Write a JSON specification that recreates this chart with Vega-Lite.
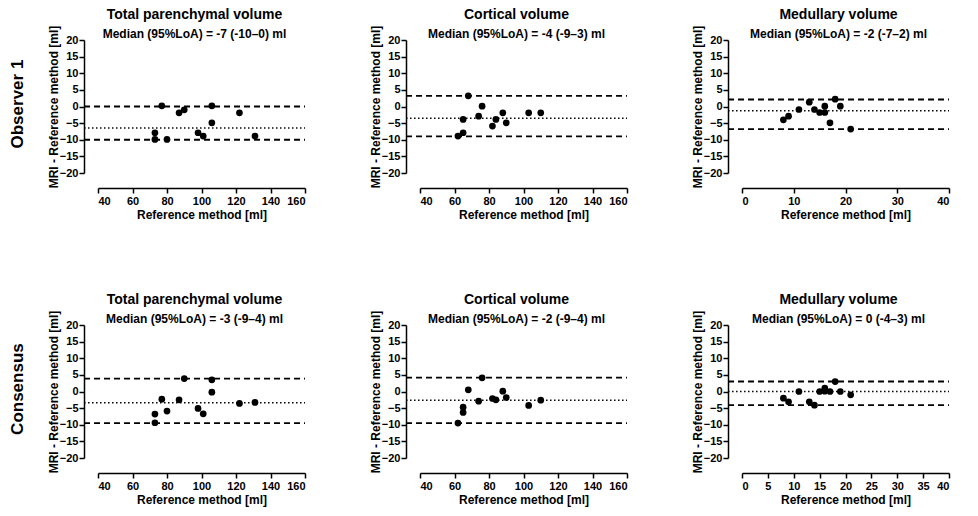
{
  "$schema": "https://vega.github.io/schema/vega-lite/v6.json",
  "background": "white",
  "padding": {"left": 9, "top": 8, "right": 5, "bottom": 5},
  "spacing": 73,
  "config": {
    "font": "Liberation Sans",
    "view": {"stroke": null},
    "axis": {
      "grid": false,
      "domainColor": "black",
      "domainWidth": 1.5,
      "tickColor": "black",
      "tickWidth": 1.5,
      "tickSize": 5,
      "labelFont": "Liberation Sans",
      "labelFontSize": 11,
      "labelFontWeight": "bold",
      "labelColor": "black",
      "labelPadding": 2,
      "titleFont": "Liberation Sans",
      "titleFontSize": 12,
      "titleFontWeight": "bold",
      "titleColor": "black"
    },
    "axisX": {"offset": 15, "titlePadding": 3},
    "axisY": {"offset": 14, "titlePadding": -1, "labelPadding": 1},
    "title": {
      "font": "Liberation Sans",
      "fontSize": 14,
      "fontWeight": "bold",
      "color": "black",
      "subtitleFont": "Liberation Sans",
      "subtitleFontSize": 12,
      "subtitleFontWeight": "bold",
      "subtitleColor": "black",
      "subtitlePadding": 7,
      "anchor": "middle",
      "offset": -15
    }
  },
  "datasets": {
    "pts": [
      {"p": "T1", "ref": 77, "diff": 0.2},
      {"p": "T1", "ref": 87, "diff": -1.9},
      {"p": "T1", "ref": 90, "diff": -1.0},
      {"p": "T1", "ref": 106, "diff": 0.2},
      {"p": "T1", "ref": 106, "diff": -4.9},
      {"p": "T1", "ref": 122, "diff": -1.9},
      {"p": "T1", "ref": 73, "diff": -7.9},
      {"p": "T1", "ref": 73, "diff": -9.9},
      {"p": "T1", "ref": 80, "diff": -9.9},
      {"p": "T1", "ref": 98, "diff": -7.9},
      {"p": "T1", "ref": 101, "diff": -8.9},
      {"p": "T1", "ref": 131, "diff": -8.9},
      {"p": "C1", "ref": 68, "diff": 3.2},
      {"p": "C1", "ref": 76, "diff": 0.1},
      {"p": "C1", "ref": 74, "diff": -2.9},
      {"p": "C1", "ref": 65, "diff": -3.9},
      {"p": "C1", "ref": 65, "diff": -7.9},
      {"p": "C1", "ref": 62, "diff": -8.9},
      {"p": "C1", "ref": 82, "diff": -5.9},
      {"p": "C1", "ref": 84, "diff": -3.9},
      {"p": "C1", "ref": 88, "diff": -1.9},
      {"p": "C1", "ref": 90, "diff": -4.9},
      {"p": "C1", "ref": 103, "diff": -1.9},
      {"p": "C1", "ref": 110, "diff": -1.9},
      {"p": "M1", "ref": 8, "diff": -4.0},
      {"p": "M1", "ref": 9, "diff": -2.9},
      {"p": "M1", "ref": 11, "diff": -0.9},
      {"p": "M1", "ref": 13, "diff": 1.3},
      {"p": "M1", "ref": 14, "diff": -0.9},
      {"p": "M1", "ref": 15, "diff": -1.8},
      {"p": "M1", "ref": 16, "diff": 0.1},
      {"p": "M1", "ref": 16, "diff": -1.8},
      {"p": "M1", "ref": 17, "diff": -4.9},
      {"p": "M1", "ref": 18, "diff": 2.2},
      {"p": "M1", "ref": 19, "diff": 0.1},
      {"p": "M1", "ref": 21, "diff": -6.8},
      {"p": "T2", "ref": 90, "diff": 3.9},
      {"p": "T2", "ref": 106, "diff": 3.5},
      {"p": "T2", "ref": 106, "diff": -0.2},
      {"p": "T2", "ref": 77, "diff": -2.3},
      {"p": "T2", "ref": 87, "diff": -2.5},
      {"p": "T2", "ref": 73, "diff": -6.8},
      {"p": "T2", "ref": 73, "diff": -9.4},
      {"p": "T2", "ref": 80, "diff": -5.9},
      {"p": "T2", "ref": 98, "diff": -5.1},
      {"p": "T2", "ref": 101, "diff": -6.7},
      {"p": "T2", "ref": 122, "diff": -3.6},
      {"p": "T2", "ref": 131, "diff": -3.3},
      {"p": "C2", "ref": 76, "diff": 4.1},
      {"p": "C2", "ref": 68, "diff": 0.5},
      {"p": "C2", "ref": 88, "diff": 0.1},
      {"p": "C2", "ref": 74, "diff": -2.9},
      {"p": "C2", "ref": 82, "diff": -2.1},
      {"p": "C2", "ref": 84, "diff": -2.5},
      {"p": "C2", "ref": 90, "diff": -1.8},
      {"p": "C2", "ref": 65, "diff": -4.7},
      {"p": "C2", "ref": 65, "diff": -6.3},
      {"p": "C2", "ref": 62, "diff": -9.5},
      {"p": "C2", "ref": 103, "diff": -4.2},
      {"p": "C2", "ref": 110, "diff": -2.6},
      {"p": "M2", "ref": 8, "diff": -2.0},
      {"p": "M2", "ref": 9, "diff": -3.1},
      {"p": "M2", "ref": 11, "diff": 0.0},
      {"p": "M2", "ref": 13, "diff": -3.1},
      {"p": "M2", "ref": 14, "diff": -4.1},
      {"p": "M2", "ref": 15, "diff": 0.0},
      {"p": "M2", "ref": 16, "diff": 1.0},
      {"p": "M2", "ref": 16, "diff": 0.1},
      {"p": "M2", "ref": 17, "diff": 0.0},
      {"p": "M2", "ref": 18, "diff": 3.0},
      {"p": "M2", "ref": 19, "diff": 0.0},
      {"p": "M2", "ref": 21, "diff": -1.0}
    ],
    "loa": [
      {"p": "T1", "stat": "median", "diff": -6.5},
      {"p": "T1", "stat": "lower", "diff": -10},
      {"p": "T1", "stat": "upper", "diff": 0},
      {"p": "C1", "stat": "median", "diff": -3.5},
      {"p": "C1", "stat": "lower", "diff": -9},
      {"p": "C1", "stat": "upper", "diff": 3.2},
      {"p": "M1", "stat": "median", "diff": -1.3},
      {"p": "M1", "stat": "lower", "diff": -6.8},
      {"p": "M1", "stat": "upper", "diff": 2.1},
      {"p": "T2", "stat": "median", "diff": -3.4},
      {"p": "T2", "stat": "lower", "diff": -9.5},
      {"p": "T2", "stat": "upper", "diff": 3.9},
      {"p": "C2", "stat": "median", "diff": -2.6},
      {"p": "C2", "stat": "lower", "diff": -9.5},
      {"p": "C2", "stat": "upper", "diff": 4.2},
      {"p": "M2", "stat": "median", "diff": 0},
      {"p": "M2", "stat": "lower", "diff": -4.1},
      {"p": "M2", "stat": "upper", "diff": 3.0}
    ]
  },
  "vconcat": [
    {
      "title": {"text": "Observer 1", "orient": "left", "anchor": "middle", "fontSize": 17, "fontWeight": "bold", "offset": 20, "dx": 10},
      "spacing": 63,
      "hconcat": [
        {
          "width": 207, "height": 133,
          "title": {"text": "Total parenchymal volume", "subtitle": "Median (95%LoA) = -7 (-10–0) ml", "dx": -7},
          "layer": [
            {"data": {"name": "loa"}, "transform": [{"filter": "datum.p === 'T1' && datum.stat !== 'median'"}],
             "mark": {"type": "rule", "strokeDash": [6, 4], "strokeWidth": 1.8, "color": "black"},
             "encoding": {"x": {"datum": 31.9, "type": "quantitative", "scale": {"domain": [40, 160], "nice": false, "zero": false}, "axis": {"title": "Reference method [ml]", "values": [40, 60, 80, 100, 120, 140, 160]}}, "x2": {"datum": 160},
               "y": {"field": "diff", "type": "quantitative", "scale": {"domain": [-20, 20]}, "axis": {"title": "MRI - Reference method [ml]", "values": [-20, -15, -10, -5, 0, 5, 10, 15, 20]}}}},
            {"data": {"name": "loa"}, "transform": [{"filter": "datum.p === 'T1' && datum.stat === 'median'"}],
             "mark": {"type": "rule", "strokeDash": [1.5, 2.5], "strokeWidth": 1.5, "color": "black"},
             "encoding": {"x": {"datum": 31.9, "type": "quantitative", "scale": {"domain": [40, 160], "nice": false, "zero": false}, "axis": {"title": "Reference method [ml]", "values": [40, 60, 80, 100, 120, 140, 160]}}, "x2": {"datum": 160},
               "y": {"field": "diff", "type": "quantitative", "scale": {"domain": [-20, 20]}, "axis": {"title": "MRI - Reference method [ml]", "values": [-20, -15, -10, -5, 0, 5, 10, 15, 20]}}}},
            {"data": {"name": "pts"}, "transform": [{"filter": "datum.p === 'T1'"}],
             "mark": {"type": "circle", "size": 45, "color": "black", "opacity": 1},
             "encoding": {"x": {"field": "ref", "type": "quantitative", "scale": {"domain": [40, 160], "nice": false, "zero": false}, "axis": {"title": "Reference method [ml]", "values": [40, 60, 80, 100, 120, 140, 160]}},
               "y": {"field": "diff", "type": "quantitative", "scale": {"domain": [-20, 20]}, "axis": {"title": "MRI - Reference method [ml]", "values": [-20, -15, -10, -5, 0, 5, 10, 15, 20]}}}}
          ]
        },
        {
          "width": 207, "height": 133,
          "title": {"text": "Cortical volume", "subtitle": "Median (95%LoA) = -4 (-9–3) ml", "dx": -7},
          "layer": [
            {"data": {"name": "loa"}, "transform": [{"filter": "datum.p === 'C1' && datum.stat !== 'median'"}],
             "mark": {"type": "rule", "strokeDash": [6, 4], "strokeWidth": 1.8, "color": "black"},
             "encoding": {"x": {"datum": 31.9, "type": "quantitative", "scale": {"domain": [40, 160], "nice": false, "zero": false}, "axis": {"title": "Reference method [ml]", "values": [40, 60, 80, 100, 120, 140, 160]}}, "x2": {"datum": 160},
               "y": {"field": "diff", "type": "quantitative", "scale": {"domain": [-20, 20]}, "axis": {"title": "MRI - Reference method [ml]", "values": [-20, -15, -10, -5, 0, 5, 10, 15, 20]}}}},
            {"data": {"name": "loa"}, "transform": [{"filter": "datum.p === 'C1' && datum.stat === 'median'"}],
             "mark": {"type": "rule", "strokeDash": [1.5, 2.5], "strokeWidth": 1.5, "color": "black"},
             "encoding": {"x": {"datum": 31.9, "type": "quantitative", "scale": {"domain": [40, 160], "nice": false, "zero": false}, "axis": {"title": "Reference method [ml]", "values": [40, 60, 80, 100, 120, 140, 160]}}, "x2": {"datum": 160},
               "y": {"field": "diff", "type": "quantitative", "scale": {"domain": [-20, 20]}, "axis": {"title": "MRI - Reference method [ml]", "values": [-20, -15, -10, -5, 0, 5, 10, 15, 20]}}}},
            {"data": {"name": "pts"}, "transform": [{"filter": "datum.p === 'C1'"}],
             "mark": {"type": "circle", "size": 45, "color": "black", "opacity": 1},
             "encoding": {"x": {"field": "ref", "type": "quantitative", "scale": {"domain": [40, 160], "nice": false, "zero": false}, "axis": {"title": "Reference method [ml]", "values": [40, 60, 80, 100, 120, 140, 160]}},
               "y": {"field": "diff", "type": "quantitative", "scale": {"domain": [-20, 20]}, "axis": {"title": "MRI - Reference method [ml]", "values": [-20, -15, -10, -5, 0, 5, 10, 15, 20]}}}}
          ]
        },
        {
          "width": 207, "height": 133,
          "title": {"text": "Medullary volume", "subtitle": "Median (95%LoA) = -2 (-7–2) ml", "dx": -7},
          "layer": [
            {"data": {"name": "loa"}, "transform": [{"filter": "datum.p === 'M1' && datum.stat !== 'median'"}],
             "mark": {"type": "rule", "strokeDash": [6, 4], "strokeWidth": 1.8, "color": "black"},
             "encoding": {"x": {"datum": -2.7, "type": "quantitative", "scale": {"domain": [0, 40], "nice": false, "zero": false}, "axis": {"title": "Reference method [ml]", "values": [0, 10, 20, 30, 40]}}, "x2": {"datum": 40},
               "y": {"field": "diff", "type": "quantitative", "scale": {"domain": [-20, 20]}, "axis": {"title": "MRI - Reference method [ml]", "values": [-20, -15, -10, -5, 0, 5, 10, 15, 20]}}}},
            {"data": {"name": "loa"}, "transform": [{"filter": "datum.p === 'M1' && datum.stat === 'median'"}],
             "mark": {"type": "rule", "strokeDash": [1.5, 2.5], "strokeWidth": 1.5, "color": "black"},
             "encoding": {"x": {"datum": -2.7, "type": "quantitative", "scale": {"domain": [0, 40], "nice": false, "zero": false}, "axis": {"title": "Reference method [ml]", "values": [0, 10, 20, 30, 40]}}, "x2": {"datum": 40},
               "y": {"field": "diff", "type": "quantitative", "scale": {"domain": [-20, 20]}, "axis": {"title": "MRI - Reference method [ml]", "values": [-20, -15, -10, -5, 0, 5, 10, 15, 20]}}}},
            {"data": {"name": "pts"}, "transform": [{"filter": "datum.p === 'M1'"}],
             "mark": {"type": "circle", "size": 45, "color": "black", "opacity": 1},
             "encoding": {"x": {"field": "ref", "type": "quantitative", "scale": {"domain": [0, 40], "nice": false, "zero": false}, "axis": {"title": "Reference method [ml]", "values": [0, 10, 20, 30, 40]}},
               "y": {"field": "diff", "type": "quantitative", "scale": {"domain": [-20, 20]}, "axis": {"title": "MRI - Reference method [ml]", "values": [-20, -15, -10, -5, 0, 5, 10, 15, 20]}}}}
          ]
        }
      ]
    },
    {
      "title": {"text": "Consensus", "orient": "left", "anchor": "middle", "fontSize": 17, "fontWeight": "bold", "offset": 20, "dx": 10},
      "spacing": 63,
      "hconcat": [
        {
          "width": 207, "height": 133,
          "title": {"text": "Total parenchymal volume", "subtitle": "Median (95%LoA) = -3 (-9–4) ml", "dx": -7},
          "layer": [
            {"data": {"name": "loa"}, "transform": [{"filter": "datum.p === 'T2' && datum.stat !== 'median'"}],
             "mark": {"type": "rule", "strokeDash": [6, 4], "strokeWidth": 1.8, "color": "black"},
             "encoding": {"x": {"datum": 31.9, "type": "quantitative", "scale": {"domain": [40, 160], "nice": false, "zero": false}, "axis": {"title": "Reference method [ml]", "values": [40, 60, 80, 100, 120, 140, 160]}}, "x2": {"datum": 160},
               "y": {"field": "diff", "type": "quantitative", "scale": {"domain": [-20, 20]}, "axis": {"title": "MRI - Reference method [ml]", "values": [-20, -15, -10, -5, 0, 5, 10, 15, 20]}}}},
            {"data": {"name": "loa"}, "transform": [{"filter": "datum.p === 'T2' && datum.stat === 'median'"}],
             "mark": {"type": "rule", "strokeDash": [1.5, 2.5], "strokeWidth": 1.5, "color": "black"},
             "encoding": {"x": {"datum": 31.9, "type": "quantitative", "scale": {"domain": [40, 160], "nice": false, "zero": false}, "axis": {"title": "Reference method [ml]", "values": [40, 60, 80, 100, 120, 140, 160]}}, "x2": {"datum": 160},
               "y": {"field": "diff", "type": "quantitative", "scale": {"domain": [-20, 20]}, "axis": {"title": "MRI - Reference method [ml]", "values": [-20, -15, -10, -5, 0, 5, 10, 15, 20]}}}},
            {"data": {"name": "pts"}, "transform": [{"filter": "datum.p === 'T2'"}],
             "mark": {"type": "circle", "size": 45, "color": "black", "opacity": 1},
             "encoding": {"x": {"field": "ref", "type": "quantitative", "scale": {"domain": [40, 160], "nice": false, "zero": false}, "axis": {"title": "Reference method [ml]", "values": [40, 60, 80, 100, 120, 140, 160]}},
               "y": {"field": "diff", "type": "quantitative", "scale": {"domain": [-20, 20]}, "axis": {"title": "MRI - Reference method [ml]", "values": [-20, -15, -10, -5, 0, 5, 10, 15, 20]}}}}
          ]
        },
        {
          "width": 207, "height": 133,
          "title": {"text": "Cortical volume", "subtitle": "Median (95%LoA) = -2 (-9–4) ml", "dx": -7},
          "layer": [
            {"data": {"name": "loa"}, "transform": [{"filter": "datum.p === 'C2' && datum.stat !== 'median'"}],
             "mark": {"type": "rule", "strokeDash": [6, 4], "strokeWidth": 1.8, "color": "black"},
             "encoding": {"x": {"datum": 31.9, "type": "quantitative", "scale": {"domain": [40, 160], "nice": false, "zero": false}, "axis": {"title": "Reference method [ml]", "values": [40, 60, 80, 100, 120, 140, 160]}}, "x2": {"datum": 160},
               "y": {"field": "diff", "type": "quantitative", "scale": {"domain": [-20, 20]}, "axis": {"title": "MRI - Reference method [ml]", "values": [-20, -15, -10, -5, 0, 5, 10, 15, 20]}}}},
            {"data": {"name": "loa"}, "transform": [{"filter": "datum.p === 'C2' && datum.stat === 'median'"}],
             "mark": {"type": "rule", "strokeDash": [1.5, 2.5], "strokeWidth": 1.5, "color": "black"},
             "encoding": {"x": {"datum": 31.9, "type": "quantitative", "scale": {"domain": [40, 160], "nice": false, "zero": false}, "axis": {"title": "Reference method [ml]", "values": [40, 60, 80, 100, 120, 140, 160]}}, "x2": {"datum": 160},
               "y": {"field": "diff", "type": "quantitative", "scale": {"domain": [-20, 20]}, "axis": {"title": "MRI - Reference method [ml]", "values": [-20, -15, -10, -5, 0, 5, 10, 15, 20]}}}},
            {"data": {"name": "pts"}, "transform": [{"filter": "datum.p === 'C2'"}],
             "mark": {"type": "circle", "size": 45, "color": "black", "opacity": 1},
             "encoding": {"x": {"field": "ref", "type": "quantitative", "scale": {"domain": [40, 160], "nice": false, "zero": false}, "axis": {"title": "Reference method [ml]", "values": [40, 60, 80, 100, 120, 140, 160]}},
               "y": {"field": "diff", "type": "quantitative", "scale": {"domain": [-20, 20]}, "axis": {"title": "MRI - Reference method [ml]", "values": [-20, -15, -10, -5, 0, 5, 10, 15, 20]}}}}
          ]
        },
        {
          "width": 207, "height": 133,
          "title": {"text": "Medullary volume", "subtitle": "Median (95%LoA) = 0 (-4–3) ml", "dx": -7},
          "layer": [
            {"data": {"name": "loa"}, "transform": [{"filter": "datum.p === 'M2' && datum.stat !== 'median'"}],
             "mark": {"type": "rule", "strokeDash": [6, 4], "strokeWidth": 1.8, "color": "black"},
             "encoding": {"x": {"datum": -2.7, "type": "quantitative", "scale": {"domain": [0, 40], "nice": false, "zero": false}, "axis": {"title": "Reference method [ml]", "values": [0, 5, 10, 15, 20, 25, 30, 35, 40]}}, "x2": {"datum": 40},
               "y": {"field": "diff", "type": "quantitative", "scale": {"domain": [-20, 20]}, "axis": {"title": "MRI - Reference method [ml]", "values": [-20, -15, -10, -5, 0, 5, 10, 15, 20]}}}},
            {"data": {"name": "loa"}, "transform": [{"filter": "datum.p === 'M2' && datum.stat === 'median'"}],
             "mark": {"type": "rule", "strokeDash": [1.5, 2.5], "strokeWidth": 1.5, "color": "black"},
             "encoding": {"x": {"datum": -2.7, "type": "quantitative", "scale": {"domain": [0, 40], "nice": false, "zero": false}, "axis": {"title": "Reference method [ml]", "values": [0, 5, 10, 15, 20, 25, 30, 35, 40]}}, "x2": {"datum": 40},
               "y": {"field": "diff", "type": "quantitative", "scale": {"domain": [-20, 20]}, "axis": {"title": "MRI - Reference method [ml]", "values": [-20, -15, -10, -5, 0, 5, 10, 15, 20]}}}},
            {"data": {"name": "pts"}, "transform": [{"filter": "datum.p === 'M2'"}],
             "mark": {"type": "circle", "size": 45, "color": "black", "opacity": 1},
             "encoding": {"x": {"field": "ref", "type": "quantitative", "scale": {"domain": [0, 40], "nice": false, "zero": false}, "axis": {"title": "Reference method [ml]", "values": [0, 5, 10, 15, 20, 25, 30, 35, 40]}},
               "y": {"field": "diff", "type": "quantitative", "scale": {"domain": [-20, 20]}, "axis": {"title": "MRI - Reference method [ml]", "values": [-20, -15, -10, -5, 0, 5, 10, 15, 20]}}}}
          ]
        }
      ]
    }
  ]
}
